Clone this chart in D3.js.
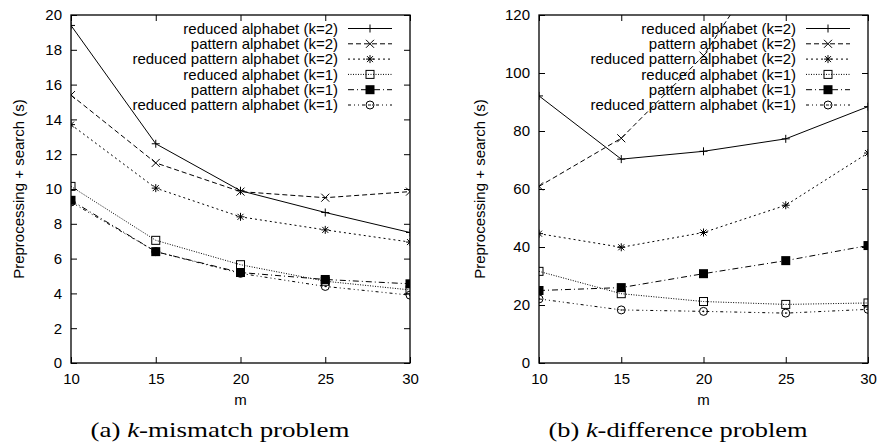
<!DOCTYPE html>
<html><head><meta charset="utf-8">
<script src="https://cdn.jsdelivr.net/npm/d3@7"></script>
<style>
body{margin:0;background:#fff;}
svg{display:block;}
</style></head>
<body>
<svg id="c" width="880" height="446"></svg>
<script>
const mValues = [10, 15, 20, 25, 30];
const seriesNames = [
  "reduced alphabet (k=2)",
  "pattern alphabet (k=2)",
  "reduced pattern alphabet (k=2)",
  "reduced alphabet (k=1)",
  "pattern alphabet (k=1)",
  "reduced pattern alphabet (k=1)"
];
// (a) k-mismatch problem
const mismatchReducedK2 = [19.4, 12.6, 9.9, 8.65, 7.5];
const mismatchPatternK2 = [15.4, 11.5, 9.85, 9.5, 9.85];
const mismatchReducedPatternK2 = [13.7, 10.05, 8.4, 7.65, 6.95];
const mismatchReducedK1 = [10.15, 7.05, 5.65, 4.7, 4.2];
const mismatchPatternK1 = [9.35, 6.4, 5.2, 4.8, 4.55];
const mismatchReducedPatternK1 = [9.25, 6.4, 5.15, 4.4, 3.9];
// (b) k-difference problem
const diffReducedK2 = [92.1, 70.3, 73.0, 77.3, 88.4];
const diffPatternK2 = [60.9, 77.5, 106.0, 149, 195];
const diffReducedPatternK2 = [44.6, 39.9, 45.0, 54.4, 72.4];
const diffReducedK1 = [31.6, 23.9, 21.2, 20.2, 20.7];
const diffPatternK1 = [25.0, 26.0, 30.8, 35.3, 40.5];
const diffReducedPatternK1 = [22.1, 18.3, 17.8, 17.2, 18.5];

const yTicksA = [0, 2, 4, 6, 8, 10, 12, 14, 16, 18, 20];
const yTicksB = [0, 20, 40, 60, 80, 100, 120];
const xTicks = [10, 15, 20, 25, 30];
const yLabel = "Preprocessing + search (s)";
const xLabel = "m";

const SANS = "'Liberation Sans', Arimo, Arial, Helvetica, sans-serif";
const SERIF = "'Liberation Serif', Tinos, 'Times New Roman', Times, serif";
const FS = 15;

const styles = [
  {dash: null, marker: "plus"},
  {dash: "5,3", marker: "cross"},
  {dash: "2,3", marker: "star"},
  {dash: "1,1.5", marker: "square"},
  {dash: "6,3,1,3", marker: "fsquare"},
  {dash: "3,3,1,3,1,3", marker: "circle"}
];

const svg = d3.select("#c");

function marker(g, type, x, y) {
  const s = 4;
  if (type === "plus") {
    g.append("path").attr("d", `M${x-s},${y}H${x+s}M${x},${y-s}V${y+s}`).attr("stroke", "#000").attr("fill", "none");
  } else if (type === "cross") {
    g.append("path").attr("d", `M${x-s},${y-s}L${x+s},${y+s}M${x-s},${y+s}L${x+s},${y-s}`).attr("stroke", "#000").attr("fill", "none");
  } else if (type === "star") {
    g.append("path").attr("d", `M${x-s},${y}H${x+s}M${x},${y-s}V${y+s}M${x-s+1},${y-s+1}L${x+s-1},${y+s-1}M${x-s+1},${y+s-1}L${x+s-1},${y-s+1}`).attr("stroke", "#000").attr("fill", "none");
  } else if (type === "square") {
    g.append("rect").attr("x", x-s).attr("y", y-s).attr("width", 2*s).attr("height", 2*s).attr("stroke", "#000").attr("fill", "none");
  } else if (type === "fsquare") {
    g.append("rect").attr("x", x-s-0.5).attr("y", y-s-0.5).attr("width", 2*s+1).attr("height", 2*s+1).attr("fill", "#000");
  } else if (type === "circle") {
    g.append("circle").attr("cx", x).attr("cy", y).attr("r", s).attr("stroke", "#000").attr("fill", "none");
    g.append("circle").attr("cx", x).attr("cy", y).attr("r", 0.8).attr("fill", "#000");
  }
}

function panel(cfg) {
  const {left, right, top, bottom, yMax, yTicks, series, legendRight, yLabelX, caption, captionCx, id} = cfg;
  const x = d3.scaleLinear().domain([10, 30]).range([left, right]);
  const y = d3.scaleLinear().domain([0, yMax]).range([bottom, top]);
  const g = svg.append("g");

  g.append("clipPath").attr("id", id).append("rect")
    .attr("x", left).attr("y", top).attr("width", right-left).attr("height", bottom-top);

  const tk = 6;
  const axL = g.append("g").attr("transform", `translate(${left},0)`)
    .call(d3.axisLeft(y).tickValues(yTicks).tickSize(-tk).tickPadding(9));
  const axR = g.append("g").attr("transform", `translate(${right},0)`)
    .call(d3.axisRight(y).tickValues(yTicks).tickSize(-tk).tickFormat(""));
  const axB = g.append("g").attr("transform", `translate(0,${bottom})`)
    .call(d3.axisBottom(x).tickValues(xTicks).tickSize(-tk).tickPadding(10));
  const axT = g.append("g").attr("transform", `translate(0,${top})`)
    .call(d3.axisTop(x).tickValues(xTicks).tickSize(-tk).tickFormat(""));
  [axL, axR, axB, axT].forEach(a => {
    a.attr("font-family", null).attr("font-size", null);
    a.select(".domain").remove();
    a.selectAll("line").attr("stroke", "#000");
    a.selectAll("text").attr("font-size", FS).attr("fill", "#000")
      .style("font-family", SANS);
  });
  axB.selectAll("text").attr("dy", "0.71em");

  g.append("rect").attr("x", left).attr("y", top).attr("width", right-left).attr("height", bottom-top)
    .attr("fill", "none").attr("stroke", "#000").attr("stroke-width", 1.3);

  const line = d3.line().x((d, i) => x(mValues[i])).y(d => y(d));
  const lg = g.append("g").attr("clip-path", `url(#${id})`);
  series.forEach((vals, si) => {
    const st = styles[si];
    lg.append("path").attr("d", line(vals)).attr("fill", "none").attr("stroke", "#000")
      .attr("stroke-width", 1).attr("stroke-dasharray", st.dash);
    vals.forEach((v, i) => {
      if (v <= yMax) marker(lg, st.marker, x(mValues[i]), y(v));
    });
  });

  // legend
  const legTop = 28.5, legStep = 15.3;
  seriesNames.forEach((name, si) => {
    const yy = legTop + si * legStep;
    g.append("text").attr("x", legendRight).attr("y", yy).attr("dy", "0.35em")
      .attr("text-anchor", "end").attr("font-size", FS).style("font-family", SANS).text(name);
    const lx0 = legendRight + 10, lx1 = legendRight + 54;
    g.append("line").attr("x1", lx0).attr("x2", lx1).attr("y1", yy).attr("y2", yy)
      .attr("stroke", "#000").attr("stroke-dasharray", styles[si].dash);
    marker(g, styles[si].marker, (lx0 + lx1) / 2, yy);
  });

  g.append("text").attr("transform", `translate(${yLabelX},${(top+bottom)/2}) rotate(-90)`)
    .attr("text-anchor", "middle").attr("font-size", FS).style("font-family", SANS).text(yLabel);
  g.append("text").attr("x", (left+right)/2).attr("y", 405).attr("text-anchor", "middle")
    .attr("font-size", FS).style("font-family", SANS).text(xLabel);

  const cap = g.append("text").attr("x", captionCx).attr("y", 437).attr("text-anchor", "middle")
    .attr("font-size", 21).style("font-family", SERIF)
    .attr("textLength", 259).attr("lengthAdjust", "spacingAndGlyphs");
  cap.append("tspan").text(caption[0]);
  cap.append("tspan").attr("font-style", "italic").text("k");
  cap.append("tspan").text(caption[1]);
}

panel({
  id: "clipA", left: 71, right: 410, top: 15, bottom: 363, yMax: 20, yTicks: yTicksA,
  series: [mismatchReducedK2, mismatchPatternK2, mismatchReducedPatternK2, mismatchReducedK1, mismatchPatternK1, mismatchReducedPatternK1],
  legendRight: 338, yLabelX: 24, caption: ["(a) ", "-mismatch problem"], captionCx: 220
});
panel({
  id: "clipB", left: 539, right: 868, top: 15, bottom: 363, yMax: 120, yTicks: yTicksB,
  series: [diffReducedK2, diffPatternK2, diffReducedPatternK2, diffReducedK1, diffPatternK1, diffReducedPatternK1],
  legendRight: 796, yLabelX: 485, caption: ["(b) ", "-difference problem"], captionCx: 678
});
</script>
</body></html>
